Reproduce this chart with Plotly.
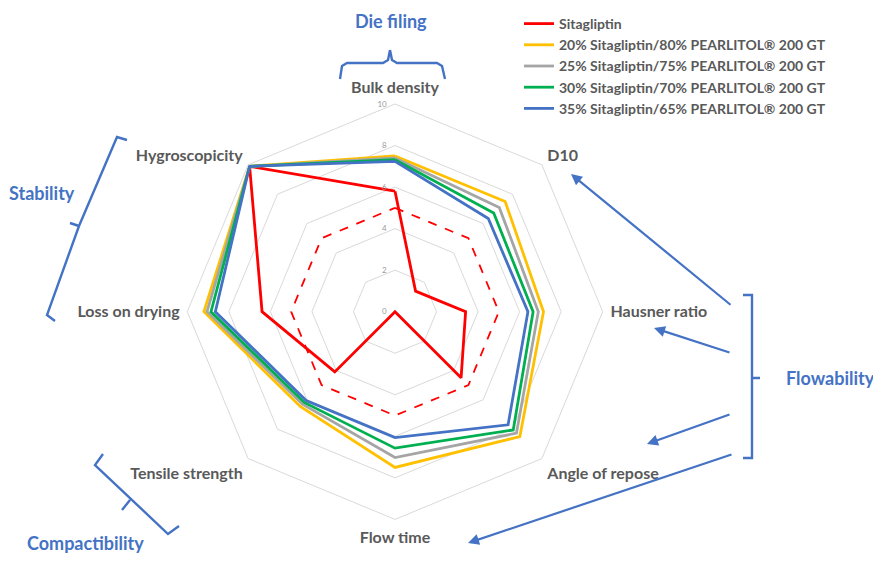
import plotly.graph_objects as go

W, H = 881, 569
OFF = 8  # page body margin of the browser

categories = ["Bulk density", "D10", "Hausner ratio", "Angle of repose",
              "Flow time", "Tensile strength", "Loss on drying", "Hygroscopicity"]

series_names = ["Sitagliptin",
                "20% Sitagliptin/80% PEARLITOL® 200 GT",
                "25% Sitagliptin/75% PEARLITOL® 200 GT",
                "30% Sitagliptin/70% PEARLITOL® 200 GT",
                "35% Sitagliptin/65% PEARLITOL® 200 GT"]

sitagliptin = [5.8, 1.4, 3.4, 4.5, 0.0, 4.1, 6.4, 9.9]
s20 = [7.5, 7.5, 7.15, 8.5, 7.5, 6.45, 9.2, 9.9]
s25 = [7.4, 7.1, 6.9, 8.27, 7.02, 6.3, 9.05, 9.9]
s30 = [7.32, 6.72, 6.65, 8.05, 6.57, 6.18, 8.86, 9.9]
s35 = [7.24, 6.35, 6.4, 7.7, 6.06, 6.05, 8.65, 9.9]
threshold = [5, 5, 5, 5, 5, 5, 5, 5]

radial_ticks = [0, 2, 4, 6, 8, 10]

colors = ["#FF0000", "#FFC000", "#A5A5A5", "#00B050", "#4472C4"]
values = [sitagliptin, s20, s25, s30, s35]


def px(x):
    return (x - OFF) / W


def py(y):
    return 1 - (y - OFF) / H


fig = go.Figure()

fig.add_trace(go.Scatterpolar(
    r=threshold + threshold[:1], theta=categories + categories[:1],
    mode="lines", line=dict(color="#FF0000", width=1.8, dash="dash"),
    showlegend=False, hoverinfo="skip"))

for name, vals, col in zip(series_names, values, colors):
    fig.add_trace(go.Scatterpolar(
        r=vals + vals[:1], theta=categories + categories[:1],
        mode="lines", name=name, line=dict(color=col, width=2.8)))

cx, cy, R = 395, 311.7, 207.7

fig.update_layout(
    width=W, height=H,
    margin=dict(l=0, r=0, t=0, b=0),
    paper_bgcolor="white",
    font=dict(family="Lato", color="#595959"),
    polar=dict(
        domain=dict(x=[px(cx - R), px(cx + R)], y=[py(cy + R), py(cy - R)]),
        bgcolor="white",
        gridshape="linear",
        radialaxis=dict(range=[0, 10], tickvals=radial_ticks, angle=90,
                        side="counterclockwise", tickangle=90,
                        showline=False, ticks="outside", ticklen=5,
                        tickcolor="rgba(0,0,0,0)", gridcolor="#D9D9D9",
                        gridwidth=1,
                        tickfont=dict(size=8, color="#999999", family="Lato")),
        angularaxis=dict(direction="clockwise", rotation=90,
                         showgrid=False, showline=True, linecolor="#D9D9D9",
                         linewidth=1, ticks="outside", ticklen=4,
                         tickcolor="rgba(0,0,0,0)",
                         tickfont=dict(size=16, color="#595959", family="Lato",
                                       weight="bold")),
    ),
    legend=dict(x=px(519), y=1, xanchor="left", yanchor="top",
                font=dict(size=14, color="#595959", family="Lato", weight="bold"),
                itemwidth=30, tracegroupgap=0, bgcolor="rgba(0,0,0,0)"),
)

blue = "#4472C4"


def path(points_list):
    s = ""
    for pts in points_list:
        s += "M " + " L ".join(f"{px(x):.5f},{py(y):.5f}" for x, y in pts) + " "
    return s.strip()


braces = [
    # Die filing
    [[(340, 79), (342, 66), (347, 63), (383, 63), (388, 60), (390, 50)],
     [(390, 50), (392, 60), (397, 63), (437, 63), (442, 66), (445, 79)]],
    # Stability
    [[(127, 140), (117, 137), (79, 226), (47, 315), (55, 321)],
     [(79, 226), (70, 223)]],
    # Compactibility
    [[(103, 454), (95, 465), (168, 534), (179, 526)],
     [(130, 500), (122, 510)]],
    # Flowability
    [[(743, 295), (752, 295), (752, 458), (743, 458)],
     [(752, 378), (760, 378)]],
]
for b in braces:
    fig.add_shape(type="path", xref="paper", yref="paper", path=path(b),
                  line=dict(color=blue, width=2.4))

arrows = [((571, 174), (732, 306)), ((654, 328), (731, 353)),
          ((647, 444), (731, 414)), ((468, 543), (733, 454))]
for (hx, hy), (tx, ty) in arrows:
    fig.add_annotation(x=px(hx), y=py(hy), xref="paper", yref="paper",
                       ax=tx - hx, ay=ty - hy, axref="pixel", ayref="pixel",
                       text="", showarrow=True, arrowhead=2, arrowsize=1,
                       arrowwidth=2.2, arrowcolor=blue, standoff=0)

group_labels = [("Die filing", 391, 21), ("Stability", 42, 193),
                ("Flowability", 830, 378), ("Compactibility", 85, 543)]
for t, x, y in group_labels:
    fig.add_annotation(x=px(x), y=py(y), xref="paper", yref="paper", text=t,
                       showarrow=False, xanchor="center", yanchor="middle",
                       font=dict(size=18, color=blue, family="Lato", weight="bold"))

fig.write_html("out.html")
